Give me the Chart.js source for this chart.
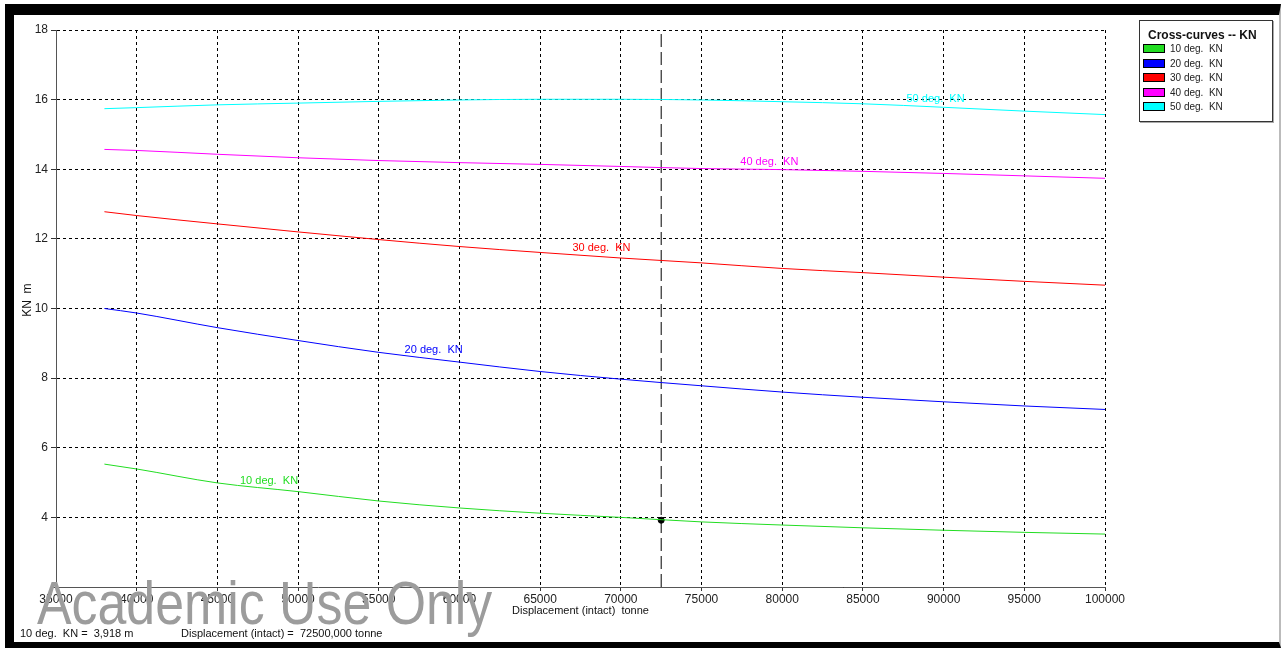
<!DOCTYPE html>
<html lang="en">
<head>
    <meta charset="UTF-8">
    <title>Cross-curves -- KN</title>
    <script src="https://cdn.jsdelivr.net/npm/chart.js"></script>
    <style>
        html, body {
            margin: 0;
            padding: 0;
            background: #fff;
            font-family: "Liberation Sans", Arial, sans-serif;
        }

        #wrap {
            position: relative;
            width: 1281px;
            height: 648px;
            overflow: hidden;
        }

        #kn {
            position: absolute;
            left: 0;
            top: 0;
        }

        #frame {
            position: absolute;
            left: 5px;
            top: 4px;
            right: 0;
            bottom: 0;
            box-sizing: border-box;
            border-left: 9px solid #000;
            border-top: 11px solid #000;
            border-bottom: 6px solid #000;
            border-right: 2px solid #bbb;
            pointer-events: none;
        }

        #legend {
            position: absolute;
            left: 1139px;
            top: 20px;
            width: 134px;
            height: 102px;
            box-sizing: border-box;
            border: 1px solid #333;
            box-shadow: 1px 1px 0 #aaa;
            background: #fff;
        }

        #legend .ttl {
            position: absolute;
            left: 8px;
            top: 7px;
            font-size: 12px;
            font-weight: bold;
            color: #111;
            white-space: pre;
        }

        #legend .row {
            position: absolute;
            left: 3px;
            height: 12px;
            font-size: 10px;
            line-height: 12px;
            color: #222;
            white-space: pre;
        }

        #legend .sw {
            display: inline-block;
            width: 20px;
            height: 7px;
            border: 1px solid #000;
            vertical-align: -1px;
            margin-right: 5px;
        }

        #watermark {
            position: absolute;
            left: 37px;
            top: 568px;
            font-size: 61px;
            line-height: 70px;
            color: #9c9c9c;
            white-space: pre;
            transform: scaleX(0.85);
            transform-origin: 0 0;
        }

        .status {
            position: absolute;
            top: 627px;
            font-size: 11px;
            color: #111;
            white-space: pre;
        }
    </style>
</head>
<body>
<div id="wrap">
    <canvas id="kn" width="1281" height="648"></canvas>
    <div id="watermark">Academic Use Only</div>
    <div id="legend"></div>
    <div class="status" style="left: 20px;">10 deg.  KN =  3,918 m</div>
    <div class="status" style="left: 181px;">Displacement (intact) =  72500,000 tonne</div>
    <div id="frame"></div>
</div>

<script>
    // displacement (tonne) where the curves are read
    const displacement = [38000, 40000, 45000, 50000, 55000, 60000, 65000, 70000, 75000, 80000, 85000, 90000, 95000, 100000];

    // KN values (m) per heel angle
    const kn10 = [5.53, 5.39, 4.99, 4.74, 4.47, 4.27, 4.12, 4.00, 3.87, 3.78, 3.70, 3.63, 3.57, 3.52];
    const kn20 = [10.00, 9.87, 9.45, 9.08, 8.74, 8.46, 8.19, 7.97, 7.78, 7.60, 7.45, 7.32, 7.20, 7.10];
    const kn30 = [12.78, 12.67, 12.43, 12.20, 11.98, 11.78, 11.61, 11.45, 11.31, 11.15, 11.03, 10.90, 10.78, 10.67];
    const kn40 = [14.57, 14.54, 14.43, 14.33, 14.25, 14.19, 14.14, 14.08, 14.02, 13.99, 13.94, 13.88, 13.81, 13.74];
    const kn50 = [15.74, 15.77, 15.85, 15.90, 15.95, 15.99, 16.01, 16.01, 15.99, 15.94, 15.88, 15.78, 15.67, 15.57];

    const seriesNames = ['10 deg.  KN', '20 deg.  KN', '30 deg.  KN', '40 deg.  KN', '50 deg.  KN'];
    const seriesValues = [kn10, kn20, kn30, kn40, kn50];
    const seriesColors = ['#22dd22', '#0000ff', '#ff0000', '#ff00ff', '#00ffff'];

    // where the in-plot curve labels sit (displacement, KN)
    const labelAtX = [46400, 56600, 67000, 77400, 87700];
    const labelAtY = [5.04, 8.80, 11.73, 14.22, 16.03];

    // selected displacement and the value
    const cursorX = 72500;
    const cursorKN = 3.918;

    const xTicks = [35000, 40000, 45000, 50000, 55000, 60000, 65000, 70000, 75000, 80000, 85000, 90000, 95000, 100000];
    const yTicks = [2, 4, 6, 8, 10, 12, 14, 16, 18];

    const FONT = '"Liberation Sans", Arial, sans-serif';

    // legend box
    const legendEl = document.getElementById('legend');
    const ttl = document.createElement('div');
    ttl.className = 'ttl';
    ttl.textContent = 'Cross-curves -- KN';
    legendEl.appendChild(ttl);
    seriesNames.forEach((name, i) => {
        const row = document.createElement('div');
        row.className = 'row';
        row.style.top = (22 + i * 14.5) + 'px';
        const sw = document.createElement('span');
        sw.className = 'sw';
        sw.style.background = seriesColors[i];
        row.appendChild(sw);
        row.appendChild(document.createTextNode(name));
        legendEl.appendChild(row);
    });

    // labels written next to each curve + the y axis title
    const curveLabels = {
        id: 'curveLabels',
        afterDatasetsDraw(chart) {
            const ctx = chart.ctx;
            const xs = chart.scales.x, ys = chart.scales.y;
            ctx.save();
            ctx.font = '11px ' + FONT;
            ctx.textAlign = 'left';
            ctx.textBaseline = 'middle';
            seriesNames.forEach((name, i) => {
                ctx.fillStyle = seriesColors[i];
                ctx.fillText(name, xs.getPixelForValue(labelAtX[i]), ys.getPixelForValue(labelAtY[i]));
            });

            // axis title, a bit above the middle like the original
            ctx.translate(28, ys.getPixelForValue(10.24));
            ctx.rotate(-Math.PI / 2);
            ctx.font = '12px ' + FONT;
            ctx.fillStyle = '#111';
            ctx.textAlign = 'center';
            ctx.fillText('KN  m', 0, 0);
            ctx.restore();
        }
    };

    const datasets = seriesValues.map((vals, i) => ({
        label: seriesNames[i],
        data: displacement.map((d, j) => ({x: d, y: vals[j]})),
        borderColor: seriesColors[i],
        backgroundColor: seriesColors[i],
        borderWidth: 1,
        pointRadius: 0,
        cubicInterpolationMode: 'monotone',
        fill: false
    }));

    // vertical cursor line
    datasets.push({
        label: 'cursor',
        data: [{x: cursorX, y: yTicks[0]}, {x: cursorX, y: yTicks[yTicks.length - 1]}],
        borderColor: '#000',
        borderWidth: 1,
        borderDash: [13, 5],
        pointRadius: 0,
        fill: false
    });

    // read-off point
    datasets.push({
        label: 'point',
        data: [{x: cursorX, y: cursorKN}],
        showLine: false,
        pointRadius: 3,
        pointBackgroundColor: '#000',
        pointBorderColor: '#000'
    });

    new Chart(document.getElementById('kn').getContext('2d'), {
        type: 'line',
        data: {datasets: datasets},
        options: {
            responsive: false,
            animation: false,
            layout: {padding: {left: 0, top: 30, right: 176, bottom: 0}},
            plugins: {
                legend: {display: false},
                tooltip: {enabled: false}
            },
            scales: {
                x: {
                    type: 'linear',
                    min: xTicks[0],
                    max: xTicks[xTicks.length - 1],
                    afterFit: s => { s.height = 61; },
                    afterBuildTicks: s => { s.ticks = xTicks.map(v => ({value: v})); },
                    ticks: {
                        autoSkip: false,
                        maxRotation: 0,
                        padding: 1,
                        color: '#222',
                        font: {family: FONT, size: 12},
                        callback: v => String(v)
                    },
                    grid: {
                        color: '#000',
                        lineWidth: 1,
                        tickLength: 4,
                        tickColor: '#333',
                        tickBorderDash: []
                    },
                    border: {display: true, color: '#555', width: 1, dash: [3, 3]},
                    title: {
                        display: true,
                        text: 'Displacement (intact)  tonne',
                        color: '#111',
                        font: {family: FONT, size: 11},
                        padding: {top: 0, bottom: 30}
                    }
                },
                y: {
                    min: yTicks[0],
                    max: yTicks[yTicks.length - 1],
                    afterFit: s => { s.width = 56; },
                    afterBuildTicks: s => { s.ticks = yTicks.map(v => ({value: v})); },
                    ticks: {
                        padding: 3,
                        color: '#222',
                        font: {family: FONT, size: 12},
                        // the bottom label is hidden under the watermark in the original
                        callback: v => (v === yTicks[0] ? '' : String(v))
                    },
                    grid: {
                        color: '#000',
                        lineWidth: 1,
                        tickLength: 5,
                        tickColor: '#333',
                        tickBorderDash: []
                    },
                    border: {display: true, color: '#555', width: 1, dash: [3, 3]},
                    title: {display: false}
                }
            }
        },
        plugins: [curveLabels]
    });
</script>
</body>
</html>
